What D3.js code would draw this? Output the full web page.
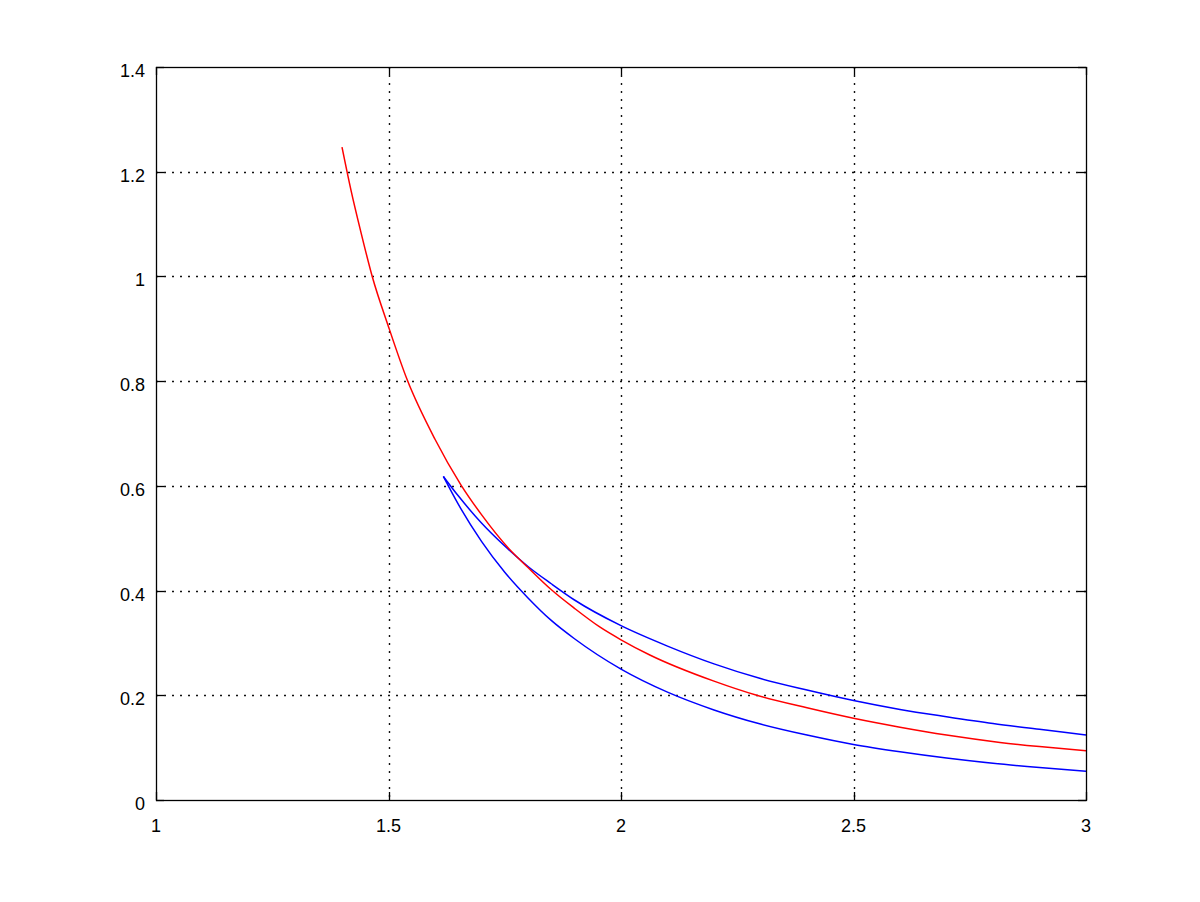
<!DOCTYPE html>
<html>
<head>
<meta charset="utf-8">
<script src="https://cdn.jsdelivr.net/npm/d3@7"></script>
<style>
  html, body { margin: 0; padding: 0; background: #fff; }
  svg { display: block; }
  text { font-family: "Liberation Sans", Arial, sans-serif; font-size: 18px; fill: #000; }
</style>
</head>
<body>
<svg id="chart" width="1200" height="902"></svg>
<script>
// ---- data ----
const xTicks = [1, 1.5, 2, 2.5, 3];
const yTicks = [0, 0.2, 0.4, 0.6, 0.8, 1, 1.2, 1.4];
const xTickLabels = ["1", "1.5", "2", "2.5", "3"];
const yTickLabels = ["0", "0.2", "0.4", "0.6", "0.8", "1", "1.2", "1.4"];

const redX = [1.40, 1.42, 1.44, 1.465, 1.50, 1.54, 1.60, 1.655, 1.70, 1.758, 1.80, 1.851, 1.90, 1.955, 2.00, 2.062, 2.20, 2.292, 2.40, 2.50, 2.60, 2.70, 2.815, 2.90, 3.00];
const redY = [1.247, 1.162, 1.087, 1.000, 0.904, 0.803, 0.689, 0.603, 0.545, 0.481, 0.444, 0.401, 0.366, 0.330, 0.306, 0.277, 0.227, 0.200, 0.176, 0.156, 0.139, 0.124, 0.110, 0.102, 0.094];

const blueUpperX = [1.618, 1.65, 1.70, 1.75, 1.80, 1.85, 1.90, 2.00, 2.10, 2.20, 2.30, 2.40, 2.50, 2.60, 2.70, 2.80, 2.90, 3.00];
const blueUpperY = [0.618, 0.581, 0.529, 0.485, 0.446, 0.413, 0.382, 0.333, 0.294, 0.260, 0.232, 0.210, 0.190, 0.173, 0.159, 0.146, 0.135, 0.124];

const blueLowerX = [1.618, 1.65, 1.70, 1.75, 1.80, 1.85, 1.90, 2.00, 2.10, 2.20, 2.30, 2.40, 2.50, 2.60, 2.70, 2.80, 2.90, 3.00];
const blueLowerY = [0.618, 0.565, 0.494, 0.435, 0.386, 0.343, 0.308, 0.250, 0.206, 0.172, 0.145, 0.124, 0.106, 0.092, 0.080, 0.070, 0.062, 0.055];

// ---- layout ----
const pLeft = 156, pRight = 1086, pTop = 67, pBottom = 800;
const svg = d3.select("#chart");
svg.append("rect").attr("width", 1200).attr("height", 902).attr("fill", "#fff");

const x = d3.scaleLinear().domain([1, 3]).range([pLeft, pRight]);
const y = d3.scaleLinear().domain([0, 1.4]).range([pBottom, pTop]);

// grid lines (dotted), interior only
const g = svg.append("g");
g.selectAll(".vgrid").data(xTicks.slice(1, -1)).enter().append("line")
  .attr("x1", d => Math.round(x(d)) + 0.5).attr("x2", d => Math.round(x(d)) + 0.5)
  .attr("y1", pTop).attr("y2", pBottom)
  .attr("stroke", "#111").attr("stroke-width", 1.4).attr("stroke-dasharray", "2,6");
g.selectAll(".hgrid").data(yTicks.slice(1, -1)).enter().append("line")
  .attr("y1", d => Math.round(y(d)) + 0.5).attr("y2", d => Math.round(y(d)) + 0.5)
  .attr("x1", pLeft).attr("x2", pRight)
  .attr("stroke", "#111").attr("stroke-width", 1.4).attr("stroke-dasharray", "2,6");

// curves
const line = d3.line().x(d => x(d[0])).y(d => y(d[1])).curve(d3.curveMonotoneX);
const zip = (xs, ys) => xs.map((v, i) => [v, ys[i]]);
const series = [
  { pts: zip(blueLowerX, blueLowerY), color: "#0000ff" },
  { pts: zip(blueUpperX, blueUpperY), color: "#0000ff" },
  { pts: zip(redX, redY), color: "#ff0000" }
];
svg.selectAll(".curve").data(series).enter().append("path")
  .attr("d", d => line(d.pts))
  .attr("fill", "none").attr("stroke", d => d.color).attr("stroke-width", 1.5)
  .attr("stroke-linejoin", "round");

// axes box
svg.append("rect").attr("x", pLeft + 0.5).attr("y", pTop + 0.5)
  .attr("width", pRight - pLeft).attr("height", pBottom - pTop)
  .attr("fill", "none").attr("stroke", "#000").attr("stroke-width", 1.3);

// inward ticks on all four sides
const tl = 8;
const ta = svg.append("g").attr("stroke", "#000").attr("stroke-width", 1.3);
xTicks.forEach(v => {
  const px = Math.round(x(v)) + 0.5;
  ta.append("line").attr("x1", px).attr("x2", px).attr("y1", pBottom).attr("y2", pBottom - tl);
  ta.append("line").attr("x1", px).attr("x2", px).attr("y1", pTop).attr("y2", pTop + tl);
});
yTicks.forEach(v => {
  const py = Math.round(y(v)) + 0.5;
  ta.append("line").attr("x1", pLeft).attr("x2", pLeft + tl).attr("y1", py).attr("y2", py);
  ta.append("line").attr("x1", pRight).attr("x2", pRight - tl).attr("y1", py).attr("y2", py);
});

// tick labels
svg.selectAll(".xl").data(xTicks).enter().append("text")
  .attr("x", d => x(d)).attr("y", pBottom + 32)
  .attr("text-anchor", "middle")
  .text((d, i) => xTickLabels[i]);
svg.selectAll(".yl").data(yTicks).enter().append("text")
  .attr("x", pLeft - 11).attr("y", d => y(d) + 10)
  .attr("text-anchor", "end")
  .text((d, i) => yTickLabels[i]);
</script>
</body>
</html>
